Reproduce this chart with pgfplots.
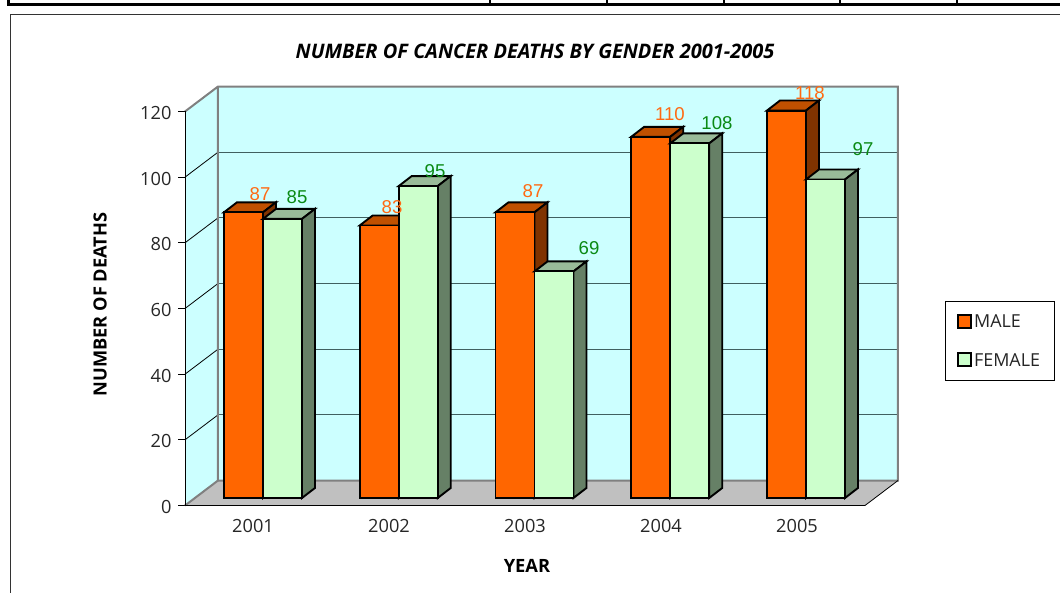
\documentclass[border=0pt]{standalone}
\usepackage{fontspec}
\setmainfont{Open Sans}
\newfontfamily\arialf{Liberation Sans}
\usepackage{pgfplots}
\pgfplotsset{compat=1.18}
\definecolor{wall}{HTML}{CCFFFF}
\definecolor{floorc}{HTML}{C0C0C0}
\definecolor{edge}{HTML}{808080}
\definecolor{gridc}{HTML}{406060}
\definecolor{malef}{HTML}{FF6600}
\definecolor{malet}{HTML}{C05000}
\definecolor{males}{HTML}{803300}
\definecolor{femf}{HTML}{CCFFCC}
\definecolor{femt}{HTML}{99BB99}
\definecolor{fems}{HTML}{668066}
\definecolor{labo}{HTML}{FF6A13}
\definecolor{labg}{HTML}{0A8A14}
\definecolor{txt}{HTML}{262626}
% depth faces of one bar: x centre, value, top colour, side colour
\newcommand\barfaces[4]{%
  \pgfmathsetmacro\xa{#1-0.14365}\pgfmathsetmacro\xb{#1+0.14365}%
  \pgfmathsetmacro\xc{\xa+0.0958}\pgfmathsetmacro\xd{\xb+0.0958}%
  \pgfmathsetmacro\ytop{#2+3.05}%
  \edef\tmp{\noexpand\addplot[forget plot,fill=#3,draw=black,line width=1.9pt,line join=miter]
    coordinates {(\xa,#2)(\xc,\ytop)(\xd,\ytop)(\xb,#2)} --cycle;
    \noexpand\addplot[forget plot,fill=#4,draw=black,line width=1.9pt,line join=miter]
    coordinates {(\xb,0)(\xd,3.05)(\xd,\ytop)(\xb,#2)} --cycle;}\tmp}
\begin{document}
\begin{tikzpicture}[x=1pt,y=1pt]
\path[use as bounding box] (0,0) rectangle (1060,593);
% page furniture
\draw[black,line width=2.6pt] (8.5,593) -- (8.5,588.5) -- (1060,588.5);
\foreach \x in {490,607,724,840,957} \draw[black,line width=2pt] (\x,593) -- (\x,588.5);
\draw[black!80,line width=1.2pt] (10.5,0) -- (10.5,578.7) -- (1060,578.7);
\begin{axis}[
  at={(185pt,87.5pt)},anchor=south west,scale only axis,width=680pt,height=394pt,
  xmin=0.5,xmax=5.5,ymin=0,ymax=120,clip=false,
  axis y line*=left,axis x line*=bottom,
  axis line style={black,line width=1pt},
  xtick={1,2,3,4,5},xticklabels={2001,2002,2003,2004,2005},
  x tick style={draw=none},major tick length=7pt,
  ytick={0,20,...,120},
  y tick style={black,line width=1pt},
  tick align=outside,
  /pgf/number format/assume math mode=true,
  /pgf/number format/1000 sep={},
  tick label style={font=\fontsize{18.2}{20}\selectfont,text=txt},
  yticklabel style={xshift=-3pt,yshift=-1.5pt},
  xticklabel style={yshift=-3.5pt},
  title={NUMBER OF CANCER DEATHS BY GENDER 2001-2005},
  title style={at={(axis description cs:0.5147,1.137)},anchor=center,font=\fontsize{20}{24}\selectfont\bfseries\itshape,text=black},
  xlabel={YEAR},
  xlabel style={at={(axis description cs:0.5029,-0.1523)},anchor=center,font=\fontsize{18.3}{22}\selectfont\bfseries,text=black},
  ylabel={NUMBER OF DEATHS},
  ylabel style={at={(axis description cs:-0.125,0.51)},anchor=center,font=\fontsize{18.2}{22}\selectfont\bfseries,text=black},
  unbounded coords=jump,
]
% walls and floor
\addplot[forget plot,fill=wall,draw=none] coordinates {(0.7426,7.6)(5.7426,7.6)(5.7426,127.6)(0.7426,127.6)} --cycle;
\addplot[forget plot,fill=wall,draw=none] coordinates {(0.5,0)(0.7426,7.6)(0.7426,127.6)(0.5,120)} --cycle;
\addplot[forget plot,fill=floorc,draw=none] coordinates {(0.5,0)(5.5,0)(5.7426,7.6)(0.7426,7.6)} --cycle;
% grid on the walls
\addplot[forget plot,gridc,line width=1pt] coordinates {
 (0.7426,27.6)(5.7426,27.6)(nan,nan)(0.7426,47.6)(5.7426,47.6)(nan,nan)
 (0.7426,67.6)(5.7426,67.6)(nan,nan)(0.7426,87.6)(5.7426,87.6)(nan,nan)
 (0.7426,107.6)(5.7426,107.6)};
\addplot[forget plot,black,line width=0.8pt] coordinates {
 (0.5,20)(0.7426,27.6)(nan,nan)(0.5,40)(0.7426,47.6)(nan,nan)
 (0.5,60)(0.7426,67.6)(nan,nan)(0.5,80)(0.7426,87.6)(nan,nan)
 (0.5,100)(0.7426,107.6)};
% edges
\addplot[forget plot,edge,line width=2pt,line join=miter] coordinates {(0.5,120)(0.7426,127.6)(5.7426,127.6)(5.7426,7.6)(0.7426,7.6)(0.7426,127.6)};
\addplot[forget plot,edge,line width=2pt] coordinates {(0.5,0)(0.7426,7.6)};
\addplot[forget plot,black,line width=0.8pt] coordinates {(5.5,0)(5.7426,7.6)};
\addplot[forget plot,black,line width=1pt] coordinates {(0.5,120)(0.5,0)(5.5,0)};
\end{axis}
\begin{axis}[
  at={(195.1pt,95pt)},anchor=south west,scale only axis,width=678.75pt,height=394pt,
  xmin=0.5,xmax=5.5,ymin=0,ymax=120,clip=false,hide axis,
  legend cell align=left,
  legend style={at={(axis description cs:1.1045,0.499)},anchor=north west,
    draw=black,line width=0.9pt,fill=white,
    font=\fontsize{17.9}{20}\selectfont,text=txt,
    inner xsep=12pt,inner ysep=11pt,row sep=20pt,
    /tikz/every even column/.append style={column sep=0pt}},
  legend image code/.code={\draw[#1,line width=1.9pt] (0pt,-6pt) rectangle (13pt,7pt);},
]
% MALE
\barfaces{0.85635}{87}{malet}{males}
\barfaces{1.85635}{83}{malet}{males}
\barfaces{2.85635}{87}{malet}{males}
\barfaces{3.85635}{110}{malet}{males}
\barfaces{4.85635}{118}{malet}{males}
\addplot[ybar,bar width=39pt,bar shift=-19.5pt,fill=malef,draw=black,line width=1.9pt] coordinates {(1,87)(2,83)(3,87)(4,110)(5,118)};
\addlegendentry{MALE}
% FEMALE
\barfaces{1.14365}{85}{femt}{fems}
\barfaces{2.14365}{95}{femt}{fems}
\barfaces{3.14365}{69}{femt}{fems}
\barfaces{4.14365}{108}{femt}{fems}
\barfaces{5.14365}{97}{femt}{fems}
\addplot[ybar,bar width=39pt,bar shift=19.5pt,fill=femf,draw=black,line width=1.9pt] coordinates {(1,85)(2,95)(3,69)(4,108)(5,97)};
\addlegendentry{FEMALE}
\end{axis}
% value labels
\begin{scope}[every node/.style={inner sep=0pt,font=\fontsize{18.6}{20}\selectfont\arialf}]
\node[text=labo] at (260,399) {87};
\node[text=labg] at (297,396) {85};
\node[text=labo] at (392,386) {83};
\node[text=labg] at (435,422) {95};
\node[text=labo] at (533,402) {87};
\node[text=labg] at (589,345) {69};
\node[text=labo] at (670,479) {110};
\node[text=labg] at (717,470) {108};
\node[text=labo] at (810,500) {118};
\node[text=labg] at (863,444) {97};
\end{scope}
\end{tikzpicture}
\end{document}
